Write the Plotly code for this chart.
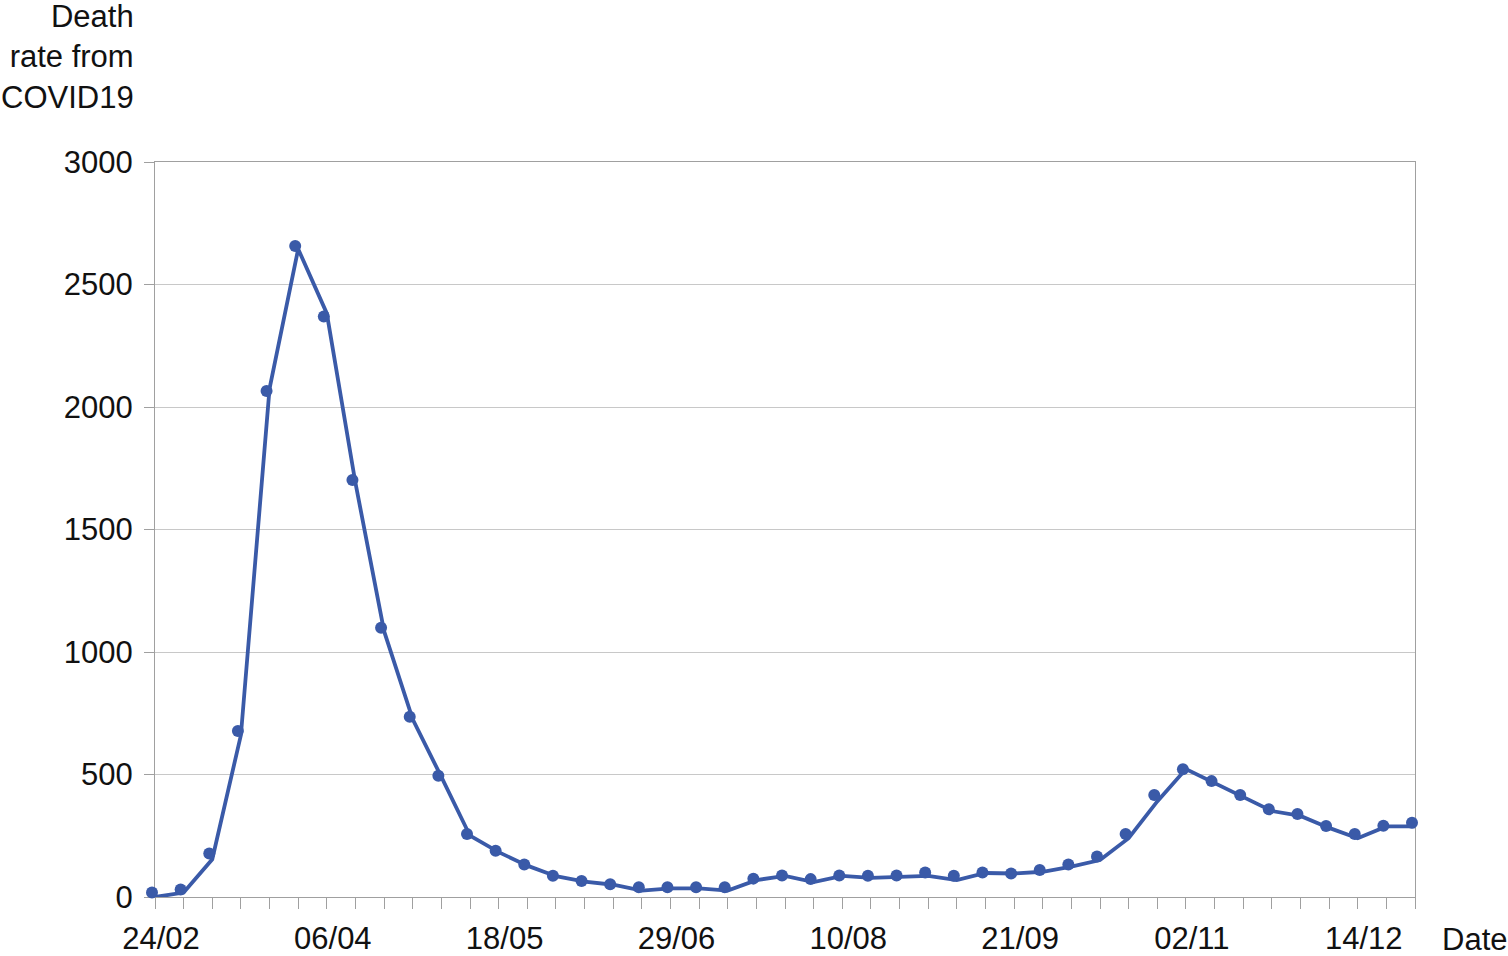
import plotly.graph_objects as go
import pandas as pd

# weekly series, first week starting 24/02
week_start = pd.date_range("2020-02-24", periods=45, freq="7D")

# values
deaths_points = [18, 31, 178, 678, 2065, 2657, 2369, 1702, 1099, 736,
                 495, 257, 189, 133, 87, 65, 52, 40, 40, 40,
                 40, 75, 88, 73, 88, 87, 88, 100, 87, 100,
                 96, 110, 133, 165, 257, 416, 521, 473, 416, 358,
                 339, 290, 257, 291, 303]

# values (drawn slightly apart from the dots)
deaths_line = [0, 18, 154, 661, 2075, 2645, 2382, 1690, 1085, 725,
               490, 250, 183, 128, 85, 63, 50, 26, 35, 35,
               26, 69, 86, 61, 86, 78, 82, 86, 69, 98,
               96, 103, 124, 151, 240, 390, 522, 465, 408, 351,
               331, 282, 240, 288, 288]

y_ticks = [0, 500, 1000, 1500, 2000, 2500, 3000]

BLUE = "#3a5aa8"
FONT = "Liberation Sans, Arial, sans-serif"

# plot frame: 1260px wide starting at x=155; the dot layer gets 10px extra on
# the left so the first dot (sitting ~3px left of the frame) is not dropped
PLOT_W, EXTRA_L, DOT_PX = 1260, 10, 3
x_start, x_end = week_start[0], week_start[-1]
per_px = (x_end - x_start) / PLOT_W
dot_range = [x_start + DOT_PX * per_px - EXTRA_L * per_px, x_end + DOT_PX * per_px]

fig = go.Figure()

fig.add_trace(go.Scatter(
    x=week_start, y=deaths_line,
    mode="lines",
    line=dict(color=BLUE, width=3.8),
    showlegend=False,
    hoverinfo="skip",
))

fig.add_trace(go.Scatter(
    x=week_start, y=deaths_points,
    mode="markers",
    marker=dict(color=BLUE, size=12),
    xaxis="x2", yaxis="y2",
    cliponaxis=False,
    showlegend=False,
    hovertemplate="%{x|%d/%m}: %{y}<extra></extra>",
))

fig.add_annotation(
    text="Death<br>rate from<br>COVID19",
    xref="x domain", yref="paper",
    x=-0.0155, y=1.223,
    xanchor="right", yanchor="top", align="right",
    showarrow=False, borderpad=0,
    font=dict(size=31, color="#111111", family=FONT),
)
fig.add_annotation(
    text="Date",
    xref="x domain", yref="paper",
    x=1.0195, y=-0.0585,
    xanchor="left", yanchor="middle",
    showarrow=False,
    font=dict(size=31, color="#111111", family=FONT),
)

fig.update_layout(
    width=1508, height=956,
    margin=dict(l=155 - EXTRA_L, r=93, t=162, b=59),
    plot_bgcolor="rgba(0,0,0,0)",
    paper_bgcolor="#ffffff",
    font=dict(family=FONT, size=31, color="#111111"),
    xaxis=dict(
        type="date",
        domain=[EXTRA_L / (PLOT_W + EXTRA_L), 1],
        range=[x_start, x_end],
        tick0=x_start, dtick=42 * 86400000,
        tickformat="%d/%m",
        ticks="outside", ticklen=11, tickcolor="#a0a0a0", tickwidth=1,
        minor=dict(ticks="outside", dtick=7 * 86400000, tick0=x_start,
                   ticklen=11, tickcolor="#a0a0a0", tickwidth=1, showgrid=False),
        showgrid=False, zeroline=False,
        showline=True, linecolor="#a0a0a0", linewidth=1, mirror=True,
        ticklabelshift=6, ticklabelstandoff=3,
        tickfont=dict(size=31, color="#111111"),
        automargin=False,
    ),
    yaxis=dict(
        range=[0, 3000],
        tickvals=y_ticks,
        ticks="outside", ticklen=10, tickcolor="#a0a0a0", tickwidth=1,
        showgrid=True, gridcolor="#c8c8c8", gridwidth=1,
        zeroline=False,
        showline=True, linecolor="#a0a0a0", linewidth=1, mirror=True,
        ticklabelstandoff=5,
        tickfont=dict(size=31, color="#111111"),
        automargin=False,
    ),
    xaxis2=dict(
        type="date", domain=[0, 1], anchor="y2",
        range=dot_range, visible=False,
    ),
    yaxis2=dict(
        domain=[0, 1], anchor="x2",
        range=[0, 3000], visible=False,
    ),
)

# drop the default 8px page margin so the figure fills the window exactly
fig.write_html("out.html",
               config={"displayModeBar": False},
               post_script="document.body.style.margin = '0';")
